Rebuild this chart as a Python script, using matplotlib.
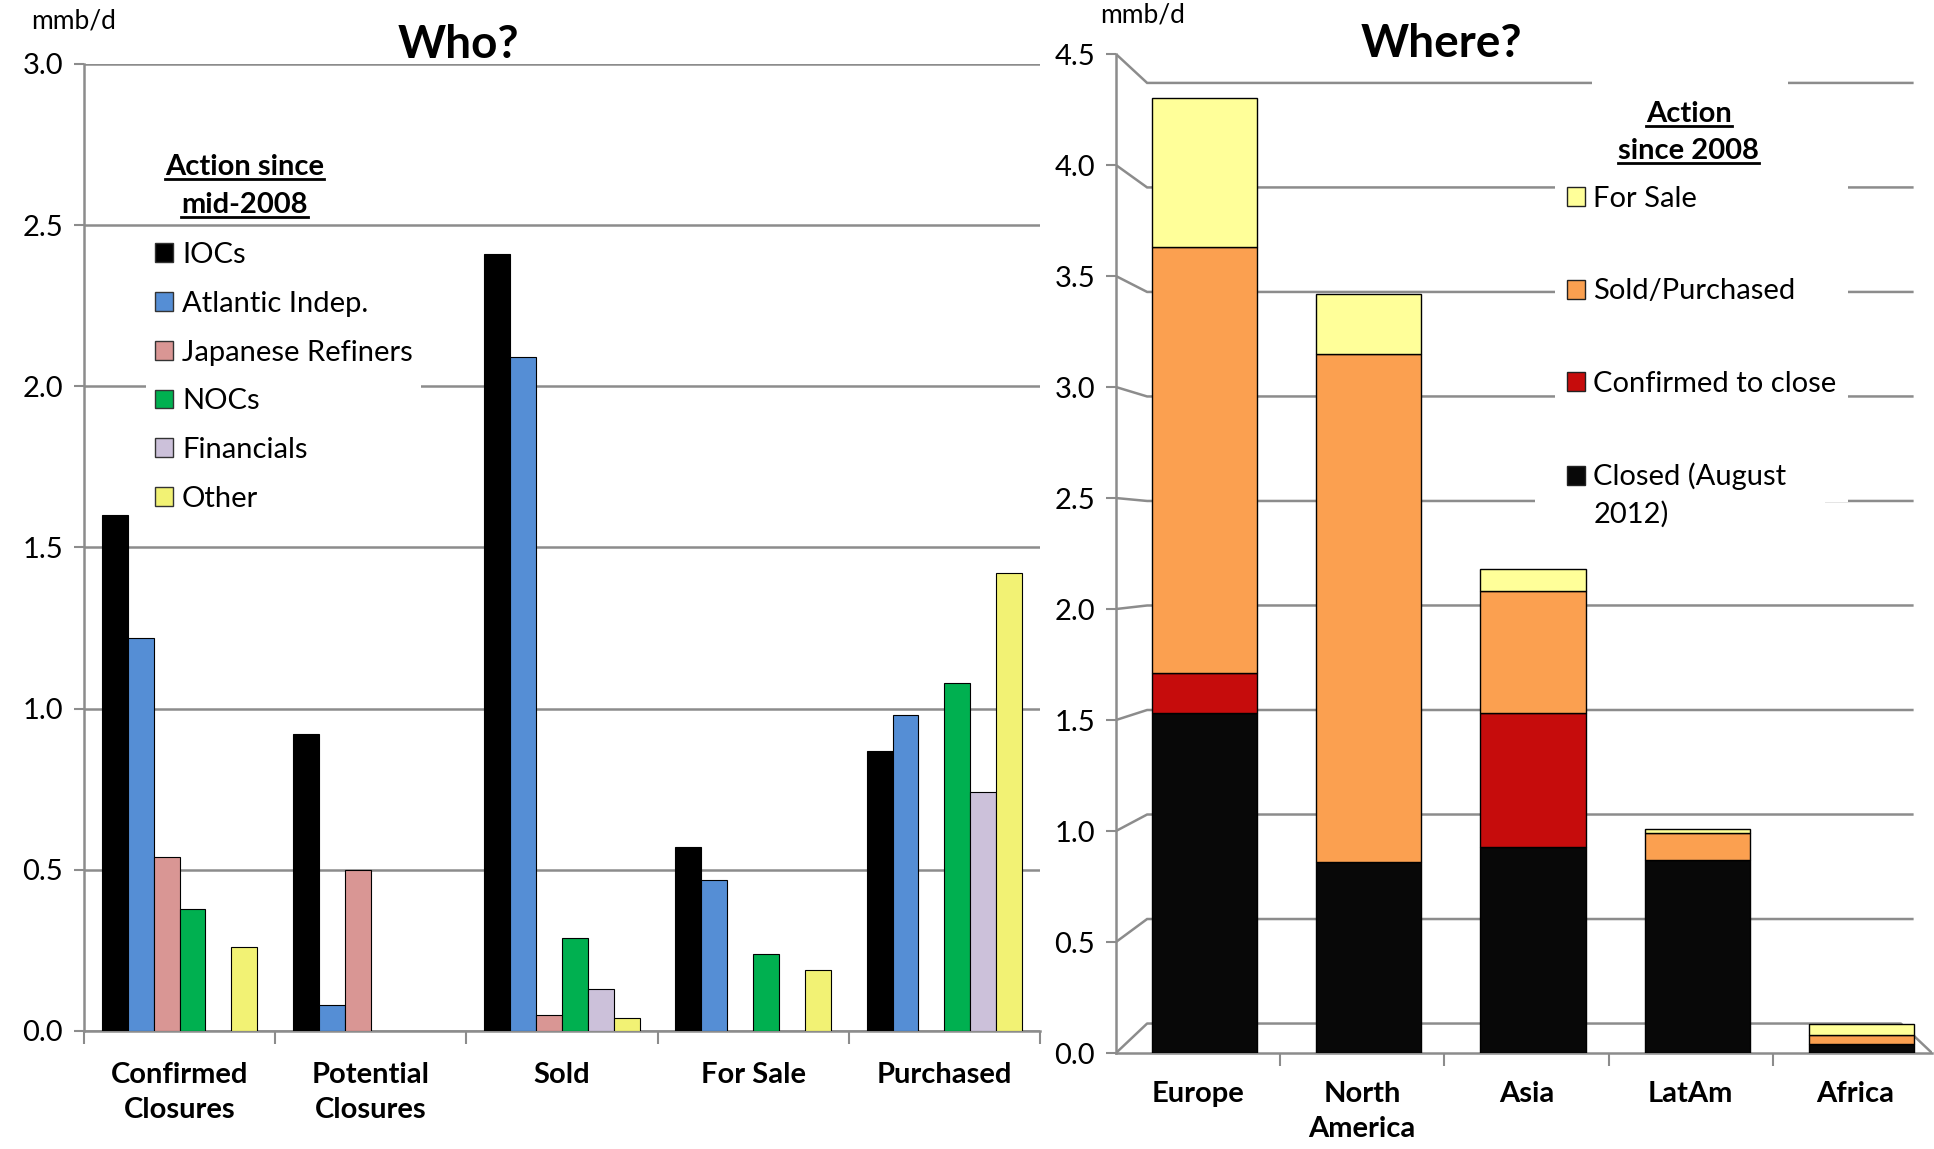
import numpy as np
import matplotlib.pyplot as plt
from matplotlib.patches import Patch
from matplotlib.lines import Line2D

plt.rcParams['font.family'] = ['Lato', 'DejaVu Sans']

# left panel: who is doing it (mmb/d)
who_groups = ['Confirmed\nClosures', 'Potential\nClosures', 'Sold', 'For Sale', 'Purchased']
who_series = ['IOCs', 'Atlantic Indep.', 'Japanese Refiners', 'NOCs', 'Financials', 'Other']
iocs = [1.60, 0.92, 2.41, 0.57, 0.87]
atlantic = [1.22, 0.08, 2.09, 0.47, 0.98]
japanese = [0.54, 0.50, 0.05, 0.0, 0.0]
nocs = [0.38, 0.0, 0.29, 0.24, 1.08]
financials = [0.0, 0.0, 0.13, 0.0, 0.74]
other = [0.26, 0.0, 0.04, 0.19, 1.42]
who_colors = ['#000000', '#558ED5', '#D99694', '#00B050', '#CCC1DA', '#F2F274']

# right panel: where (stacked)
regions = ['Europe', 'North\nAmerica', 'Asia', 'LatAm', 'Africa']
closed = [1.53, 0.86, 0.93, 0.87, 0.04]
confirmed = [0.18, 0.0, 0.60, 0.0, 0.0]
sold = [1.92, 2.29, 0.55, 0.12, 0.04]
for_sale = [0.67, 0.27, 0.10, 0.02, 0.05]
where_labels = ['Closed (August', 'Confirmed to close', 'Sold/Purchased', 'For Sale']
where_colors = ['#080808', '#C60C0C', '#FBA050', '#FFFF99']

GRID = '#8c8c8c'
FS = 21

fig = plt.figure(figsize=(19.34, 11.49), dpi=100)
ax1 = fig.add_axes([0.0434, 0.1027, 0.4943, 0.8416])
ax2 = fig.add_axes([0.577, 0.0835, 0.422, 0.8695])


def underline(ax, x, y, s, size):
    t = ax.text(x, y, s, transform=ax.transAxes, ha='center', va='baseline',
                fontsize=size, fontweight='bold', zorder=7)
    fig.canvas.draw()
    bb = t.get_window_extent(fig.canvas.get_renderer())
    yb = ax.transAxes.transform((x, y))[1] - 4
    W, H = fig.bbox.width, fig.bbox.height
    fig.add_artist(Line2D([bb.x0 / W, bb.x1 / W], [yb / H, yb / H], color='black', lw=2,
                          transform=fig.transFigure, zorder=8))
    return t


# ---- Who?
x = np.arange(len(who_groups))
w = 0.1355
vals = [iocs, atlantic, japanese, nocs, financials, other]
handles = []
for i, (v, c, lab) in enumerate(zip(vals, who_colors, who_series)):
    v = np.array(v)
    m = v > 0
    ax1.bar(x[m] + (i - 2.5) * w, v[m], width=w, color=c, edgecolor='black', lw=0.8, zorder=3)
    handles.append(Patch(facecolor=c, edgecolor='#333333', lw=1, label=lab))

ax1.set_xlim(-0.5, 4.5)
ax1.set_ylim(0, 3.0)
ax1.set_yticks(np.arange(0, 3.01, 0.5))
ax1.set_yticklabels(['%.1f' % t for t in np.arange(0, 3.01, 0.5)], fontsize=FS)
ax1.yaxis.grid(True, color=GRID, lw=1.8, zorder=0)
ax1.set_axisbelow(True)
ax1.set_xticks(x)
ax1.set_xticklabels(who_groups, fontsize=FS, fontweight='bold', linespacing=1.45)
ax1.set_xticks(np.arange(-0.5, 4.6, 1), minor=True)
ax1.tick_params(axis='x', which='major', length=0, pad=22)
ax1.tick_params(axis='x', which='minor', length=9, color=GRID, width=1.5)
ax1.tick_params(axis='y', length=7, color=GRID, width=1.5, pad=8)
for s in ['top', 'right']:
    ax1.spines[s].set_visible(False)
for s in ['left', 'bottom']:
    ax1.spines[s].set_color(GRID)
    ax1.spines[s].set_linewidth(1.8)

leg1 = ax1.legend(handles=handles, loc='upper left', bbox_to_anchor=(0.05, 0.84),
                  fontsize=FS, frameon=True, facecolor='white', edgecolor='none', framealpha=1,
                  handlelength=0.62, handleheight=0.62, handletextpad=0.3, labelspacing=0.78,
                  borderpad=0.3, fancybox=False)
leg1.set_zorder(5)

fig.text(0.237, 0.961, 'Who?', ha='center', va='center', fontsize=33, fontweight='bold')
fig.text(0.038, 0.982, 'mmb/d', ha='center', va='center', fontsize=19)

# ---- Where?
xr = np.arange(len(regions))
def back(v):
    return 0.133 + 0.9415 * v

for v in np.arange(0.5, 4.51, 0.5):
    ax2.plot([-0.5, -0.31, 4.35], [v, back(v), back(v)], color=GRID, lw=1.8, zorder=1,
             solid_joinstyle='miter')
ax2.plot([-0.5, -0.31, 4.28, 4.47], [0, back(0), back(0), 0], color=GRID, lw=1.8, zorder=1)

bottom = np.zeros(len(regions))
rh = []
for v, c, lab in zip([closed, confirmed, sold, for_sale], where_colors, where_labels):
    v = np.array(v)
    m = v > 0
    ax2.bar(xr[m] + 0.04, v[m], bottom=bottom[m], width=0.64, color=c, edgecolor='black',
            lw=1.0, zorder=3)
    bottom += v
    rh.append(Patch(facecolor=c, edgecolor='#222222', lw=1, label=lab))

ax2.set_xlim(-0.5, 4.47)
ax2.set_ylim(0, 4.5)
ax2.set_yticks(np.arange(0, 4.51, 0.5))
ax2.set_yticklabels(['%.1f' % t for t in np.arange(0, 4.51, 0.5)], fontsize=FS)
ax2.set_xticks(xr)
ax2.set_xticklabels(regions, fontsize=FS, fontweight='bold', linespacing=1.45)
ax2.set_xticks(np.arange(0.5, 4.0, 1), minor=True)
ax2.tick_params(axis='x', which='major', length=0, pad=20)
ax2.tick_params(axis='x', which='minor', length=9, color=GRID, width=1.5)
ax2.tick_params(axis='y', length=7, color=GRID, width=1.5, pad=8)
for s in ['top', 'right']:
    ax2.spines[s].set_visible(False)
for s in ['left', 'bottom']:
    ax2.spines[s].set_color(GRID)
    ax2.spines[s].set_linewidth(1.8)

leg2 = ax2.legend(handles=rh[::-1], loc='upper left', bbox_to_anchor=(0.52, 0.894),
                  fontsize=FS, frameon=True, facecolor='white', edgecolor='none', framealpha=1,
                  handlelength=0.62, handleheight=0.62, handletextpad=0.3, labelspacing=2.27,
                  borderpad=0.4, fancybox=False)
leg2.set_zorder(5)
ax2.add_patch(plt.Rectangle((0.583, 0.88), 0.24, 0.097, transform=ax2.transAxes,
                            facecolor='white', edgecolor='none', zorder=6))

fig.text(0.7455, 0.962, 'Where?', ha='center', va='center', fontsize=33, fontweight='bold')
fig.text(0.591, 0.987, 'mmb/d', ha='center', va='center', fontsize=19)

underline(ax1, 0.168, 0.885, 'Action since', FS)
underline(ax1, 0.168, 0.846, 'mid-2008', FS)
underline(ax2, 0.702, 0.932, 'Action', FS)
underline(ax2, 0.702, 0.895, 'since 2008', FS)

# second line of the last legend label, placed under its first line
fig.canvas.draw()
last = leg2.get_texts()[-1]
bb = last.get_window_extent(fig.canvas.get_renderer())
fig.text(bb.x0 / fig.bbox.width, (bb.y0 - 37) / fig.bbox.height, '2012)', fontsize=FS,
         ha='left', va='bottom', zorder=7)
# keep the legend backing under the second line too
fig.add_artist(plt.Rectangle((bb.x0 / fig.bbox.width - 0.03, (bb.y0 - 45) / fig.bbox.height),
                             0.15, 45 / fig.bbox.height, transform=fig.transFigure,
                             facecolor='white', edgecolor='none', zorder=2))

fig.savefig('out.png', dpi=100)
